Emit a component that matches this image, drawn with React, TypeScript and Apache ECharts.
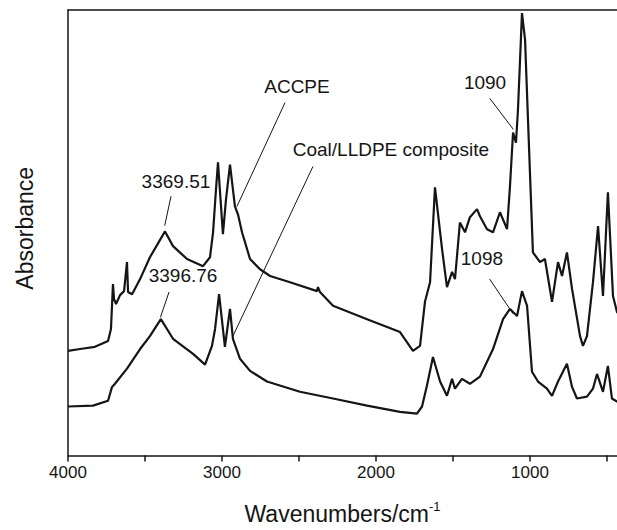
import React, { useEffect, useRef } from "react";
import * as echarts from "echarts";

// FTIR spectra, wavenumber in cm^-1 and absorbance in arbitrary units
const accpeWavenumber = [
  4000, 3922, 3825, 3740, 3721, 3708, 3701, 3688, 3662, 3636, 3617, 3610, 3584, 3532, 3468, 3370,
  3318, 3227, 3123, 3078, 3058, 3039, 3026, 2994, 2974, 2948, 2916, 2896, 2870, 2818, 2753, 2688,
  2558, 2383, 2377, 2364, 2279, 2058, 1844, 1760, 1714, 1682, 1649, 1617, 1571, 1539, 1506, 1487,
  1455, 1422, 1390, 1344, 1325, 1279, 1240, 1195, 1149, 1130, 1110, 1091, 1078, 1052, 1032, 1013,
  981, 935, 903, 857, 818, 792, 760, 727, 675, 656, 630, 591, 558, 526, 494, 461, 435, 400,
];
const accpeAbsorbance = [
  23.5, 23.9, 24.4, 25.7, 28.4, 38.5, 35.1, 34.0, 36.0, 36.9, 43.4, 36.7, 36.2, 39.6, 44.5, 50.3,
  47.0, 44.1, 42.5, 44.5, 50.1, 59.7, 65.8, 49.7, 57.5, 65.3, 55.9, 54.1, 50.1, 44.1, 41.8, 40.3,
  38.9, 36.9, 37.8, 36.7, 33.6, 30.6, 27.7, 23.5, 24.6, 34.5, 38.9, 60.2, 46.3, 37.8, 41.2, 39.6,
  52.3, 50.1, 53.5, 55.3, 53.7, 50.8, 50.1, 54.6, 50.8, 60.4, 72.5, 70.2, 77.6, 99.3, 93.3, 75.4,
  45.6, 43.4, 44.1, 34.5, 43.4, 40.3, 45.6, 37.4, 26.8, 24.6, 26.8, 38.9, 51.5, 35.8, 59.1, 35.8, 32.2, 30.6,
];

const compositeWavenumber = [
  4000, 3838, 3740, 3714, 3695, 3617, 3532, 3468, 3397, 3318, 3188, 3110, 3065, 3045, 3019, 2981,
  2948, 2929, 2883, 2818, 2708, 2494, 2279, 2058, 1844, 1734, 1701, 1669, 1630, 1584, 1539, 1506,
  1487, 1442, 1390, 1325, 1240, 1175, 1130, 1084, 1052, 1019, 987, 948, 890, 857, 818, 760,
  727, 695, 630, 591, 565, 526, 494, 468, 435, 400,
];
const compositeAbsorbance = [
  11.0, 11.2, 12.3, 15.4, 16.1, 19.5, 23.9, 26.8, 30.6, 26.2, 22.8, 20.4, 24.6, 28.4, 36.2, 24.4,
  32.9, 26.2, 21.7, 19.0, 16.6, 14.3, 12.8, 11.2, 9.8, 9.4, 11.0, 15.7, 22.1, 16.6, 13.4, 17.2,
  15.0, 17.2, 16.1, 17.7, 23.9, 30.6, 32.9, 31.3, 36.9, 33.6, 18.8, 16.6, 15.0, 13.4, 16.6, 20.6,
  15.4, 12.8, 13.2, 15.0, 18.3, 14.3, 20.1, 12.8, 12.1, 11.5,
];

// Visible wavenumber window (the low end is cut at the frame edge)
const xHigh = 4000;
const xLow = 435;
const xTickValues = [4000, 3500, 3000, 2500, 2000, 1500, 1000, 500];
const xLabelValues = [4000, 3000, 2000, 1000];

const FONT = "'Liberation Sans', Arial, Helvetica, sans-serif";
const INK = "#151515";

type Note = { text: string; at: [number, number]; from: [number, number]; to: [number, number] };

// Peak annotations: label position, arrow tail and arrow tip (data coordinates)
const accpeNotes: Note[] = [
  { text: "3369.51", at: [3299, 61.5], from: [3331, 58.2], to: [3372, 51.6] },
  { text: "ACCPE", at: [2513, 82.8], from: [2591, 79.2], to: [2903, 55.9] },
  { text: "1090", at: [1292, 83.7], from: [1262, 80.2], to: [1108, 73.2] },
];
const compositeNotes: Note[] = [
  { text: "3396.76", at: [3253, 40.5], from: [3344, 36.7], to: [3400, 31.0] },
  { text: "Coal/LLDPE composite", at: [1903, 68.7], from: [2409, 64.9], to: [2929, 26.8] },
  { text: "1098", at: [1312, 44.3], from: [1262, 39.6], to: [1110, 31.8] },
];

const zip = (xs: number[], ys: number[]) => xs.map((x, i) => [x, ys[i]]);

const annotate = (notes: Note[]) => ({
  markLine: {
    silent: true,
    symbol: ["none", "arrow"],
    symbolSize: [0, 9],
    lineStyle: { color: INK, width: 1, type: "solid" },
    label: { show: false },
    emphasis: { disabled: true },
    data: notes.map((n) => [{ coord: n.from }, { coord: n.to }]),
  },
  markPoint: {
    silent: true,
    symbol: "circle",
    symbolSize: 1,
    itemStyle: { color: "rgba(0,0,0,0)" },
    label: {
      show: true,
      position: "inside",
      color: INK,
      fontSize: 19,
      fontFamily: FONT,
    },
    data: notes.map((n) => ({ coord: n.at, label: { formatter: n.text } })),
  },
});

export default function App() {
  const ref = useRef<HTMLDivElement>(null);

  useEffect(() => {
    if (!ref.current) return;
    const chart = echarts.init(ref.current, null, { renderer: "svg" });
    chart.setOption({
      animation: false,
      backgroundColor: "#ffffff",
      grid: {
        left: 68,
        top: 10,
        right: 0,
        bottom: 73,
        show: false,
      },
      xAxis: [
        {
          type: "value",
          inverse: true,
          min: xLow,
          max: xHigh,
          axisLine: { show: true, onZero: false, lineStyle: { color: INK, width: 1.5 } },
          axisTick: {
            show: true,
            length: 6,
            customValues: xTickValues,
            lineStyle: { color: INK, width: 1.5 },
          },
          axisLabel: {
            color: INK,
            fontSize: 17,
            fontFamily: FONT,
            margin: 8,
            customValues: xLabelValues,
            formatter: (v: number) => String(v),
          },
          splitLine: { show: false },
          name: "{a|Wavenumbers/cm}{b|-1}",
          nameLocation: "middle",
          nameGap: 44,
          nameTextStyle: {
            rich: {
              a: { fontSize: 23, fontFamily: FONT, color: INK, lineHeight: 28 },
              b: { fontSize: 13, fontFamily: FONT, color: INK, verticalAlign: "top", lineHeight: 14 },
            },
          },
        },
        {
          // top frame line
          type: "value",
          position: "top",
          inverse: true,
          min: xLow,
          max: xHigh,
          axisLine: { show: true, onZero: false, lineStyle: { color: INK, width: 1.5 } },
          axisTick: { show: false },
          axisLabel: { show: false },
          splitLine: { show: false },
        },
      ],
      yAxis: {
        type: "value",
        min: 0,
        max: 100,
        axisLine: { show: true, onZero: false, lineStyle: { color: INK, width: 1.5 } },
        axisTick: { show: false },
        axisLabel: { show: false },
        splitLine: { show: false },
        name: "Absorbance",
        nameLocation: "middle",
        nameGap: 32,
        nameTextStyle: {
          fontSize: 23,
          fontFamily: FONT,
          color: INK,
          padding: [0, 0, 0, 9],
        },
      },
      series: [
        {
          name: "ACCPE",
          type: "line",
          data: zip(accpeWavenumber, accpeAbsorbance),
          showSymbol: false,
          lineStyle: { color: INK, width: 2.2 },
          ...annotate(accpeNotes),
        },
        {
          name: "Coal/LLDPE composite",
          type: "line",
          data: zip(compositeWavenumber, compositeAbsorbance),
          showSymbol: false,
          lineStyle: { color: INK, width: 2.2 },
          ...annotate(compositeNotes),
        },
      ],
    });
    return () => chart.dispose();
  }, []);

  return (
    <div
      ref={ref}
      style={{ position: "absolute", left: 0, top: 0, width: 617, height: 530, background: "#fff" }}
    />
  );
}
